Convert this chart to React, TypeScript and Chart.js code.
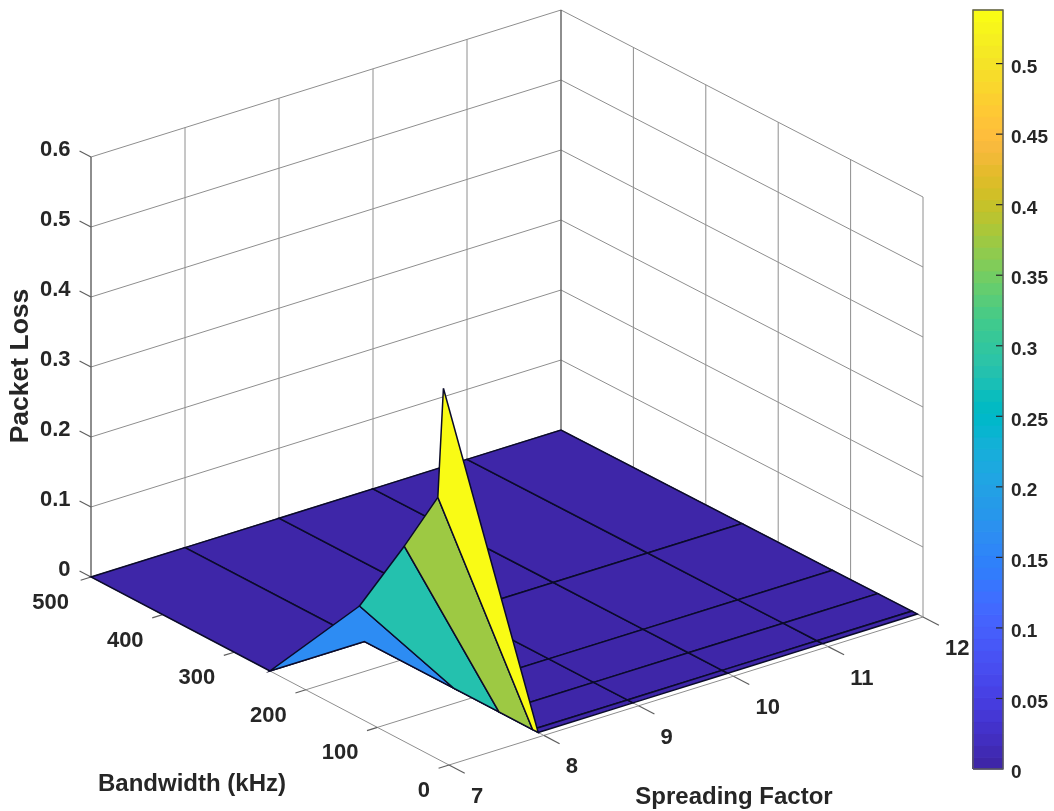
import React, { useEffect, useRef } from "react";
import { Chart, registerables } from "chart.js";

Chart.register(...registerables);

// ---- data ----
const SF_VALUES = [7, 8, 9, 10, 11, 12];
const BW_ROWS = [7.8, 15.6, 62.5, 125, 250, 500];
// packet loss at SF 7 for each BW row (every other grid node is 0)
const LOSS_AT_SF7 = [0.534, 0.374, 0.279, 0.16, 0, 0];
const SF_TICKS = [7, 8, 9, 10, 11, 12];
const BW_TICKS = [0, 100, 200, 300, 400, 500];
const LOSS_TICKS = [0, 0.1, 0.2, 0.3, 0.4, 0.5, 0.6];
const CB_TICKS = [0, 0.05, 0.1, 0.15, 0.2, 0.25, 0.3, 0.35, 0.4, 0.45, 0.5];
const CB_MAX = 0.538;
const X_TITLE = "Spreading Factor";
const Y_TITLE = "Bandwidth (kHz)";
const Z_TITLE = "Packet Loss";

const PARULA = [
  [0.2422,0.1504,0.6603],[0.2504,0.165,0.7076],[0.2578,0.1818,0.7511],[0.2647,0.1978,0.7952],
  [0.2706,0.2147,0.8364],[0.2751,0.2342,0.871],[0.2783,0.2559,0.8991],[0.2803,0.2782,0.9221],
  [0.2813,0.3006,0.9414],[0.281,0.3228,0.9579],[0.2795,0.3447,0.9717],[0.276,0.3667,0.9829],
  [0.2699,0.3892,0.9906],[0.2602,0.4123,0.9952],[0.244,0.4358,0.9988],[0.2206,0.4603,0.9973],
  [0.1963,0.4847,0.9892],[0.1834,0.5074,0.9798],[0.1786,0.5289,0.9682],[0.1764,0.5499,0.952],
  [0.1687,0.5703,0.9359],[0.154,0.5902,0.9218],[0.146,0.6091,0.9079],[0.138,0.6276,0.8973],
  [0.1248,0.6459,0.8883],[0.1113,0.6635,0.8763],[0.0952,0.6798,0.8598],[0.0689,0.6948,0.8394],
  [0.0297,0.7082,0.8163],[0.0036,0.7203,0.7917],[0.0067,0.7312,0.766],[0.0433,0.7411,0.7394],
  [0.0964,0.75,0.712],[0.1408,0.7584,0.6842],[0.1717,0.767,0.6554],[0.1938,0.7758,0.6251],
  [0.2161,0.7843,0.5923],[0.247,0.7918,0.5567],[0.2906,0.7973,0.5188],[0.3406,0.8008,0.4789],
  [0.3909,0.8029,0.4354],[0.4456,0.8024,0.3909],[0.5044,0.7993,0.348],[0.5616,0.7942,0.3045],
  [0.6174,0.7876,0.2612],[0.672,0.7793,0.2227],[0.7242,0.7698,0.191],[0.7738,0.7598,0.1646],
  [0.8203,0.7498,0.1535],[0.8634,0.7406,0.1596],[0.9035,0.733,0.1774],[0.9393,0.7288,0.21],
  [0.9728,0.7298,0.2394],[0.9956,0.7434,0.2371],[0.997,0.7659,0.2199],[0.9952,0.7893,0.2028],
  [0.9892,0.8136,0.1885],[0.9786,0.8386,0.1766],[0.9676,0.8639,0.1643],[0.961,0.889,0.1537],
  [0.9597,0.9135,0.1423],[0.9628,0.9373,0.1265],[0.9691,0.9606,0.1064],[0.9769,0.9839,0.0805],
];

// ---- view ----
const CORNER_LEFT = [91, 577];
const CORNER_BACK = [561, 430];
const CORNER_FRONT = [449, 765];
const CORNER_RIGHT = [923, 617];
const Z_PX_PER_UNIT = 700;
const Z_MAX = 0.6;
const CB_X0 = 973;
const CB_X1 = 1003;
const CB_TOP = 10;
const CB_BOTTOM = 769;
const W = 1054;
const H = 811;
const TEXT = "#262626";
const GRID = "#8e8e8e";
const AXIS = "#5e5e5e";

function project(sf: number, bw: number, z: number) {
  const u = (sf - 7) / 5;
  const v = (500 - bw) / 500;
  const mix = (i: number) =>
    (1 - u) * (1 - v) * CORNER_LEFT[i] + u * (1 - v) * CORNER_BACK[i] +
    (1 - u) * v * CORNER_FRONT[i] + u * v * CORNER_RIGHT[i];
  return { x: mix(0), y: mix(1) - z * Z_PX_PER_UNIT };
}

const rgb = (c: number[]) => `rgb(${c.map((v) => Math.round(v * 255)).join(",")})`;
const colorOf = (v: number) =>
  rgb(PARULA[Math.min(63, Math.max(0, Math.round((v / CB_MAX) * 63)))]);

function line(points: any[], color: string, width: number) {
  return {
    data: points, showLine: true, pointRadius: 0, pointHoverRadius: 0, borderColor: color,
    borderWidth: width, backgroundColor: "transparent", fill: false, tension: 0, clip: false,
    borderJoinStyle: "miter",
  };
}
function poly(points: any[], fillColor: string, edge: string, width: number) {
  return { ...line([...points, points[0]], edge, width), backgroundColor: fillColor, fill: "shape" };
}
const lossAt = (si: number, bi: number) => (si === 0 ? LOSS_AT_SF7[bi] : 0);

function buildDatasets() {
  const out: any[] = [];
  // walls
  for (const z of LOSS_TICKS) {
    out.push(line([project(7, 500, z), project(12, 500, z), project(12, 0, z)], GRID, 1));
  }
  for (const sf of SF_TICKS) {
    out.push(line([project(sf, 500, 0), project(sf, 500, Z_MAX)], sf === 7 || sf === 12 ? AXIS : GRID, sf === 7 || sf === 12 ? 1.4 : 1));
  }
  for (const bw of BW_TICKS) {
    if (bw === 500) continue;
    out.push(line([project(12, bw, 0), project(12, bw, Z_MAX)], GRID, 1));
  }
  // floor
  for (const sf of SF_TICKS) out.push(line([project(sf, 500, 0), project(sf, 0, 0)], GRID, 1));
  for (const bw of BW_TICKS) out.push(line([project(7, bw, 0), project(12, bw, 0)], GRID, 1));
  // tick marks
  for (const sf of SF_TICKS) {
    out.push(line([project(sf, 0, 0), project(sf, -22, 0)], AXIS, 1.2));
  }
  for (const bw of BW_TICKS) {
    out.push(line([project(7, bw, 0), project(6.89, bw, 0)], AXIS, 1.2));
  }
  for (const z of LOSS_TICKS) {
    out.push(line([project(7, 500, z), project(7, 516, z)], AXIS, 1.2));
  }
  // surface, back to front: flat floor cells first, then the SF 7 to 8 strip from far to near
  const cell = (si: number, bi: number) => {
    const corners = [
      project(SF_VALUES[si], BW_ROWS[bi], lossAt(si, bi)),
      project(SF_VALUES[si + 1], BW_ROWS[bi], lossAt(si + 1, bi)),
      project(SF_VALUES[si + 1], BW_ROWS[bi + 1], lossAt(si + 1, bi + 1)),
      project(SF_VALUES[si], BW_ROWS[bi + 1], lossAt(si, bi + 1)),
    ];
    return poly(corners, colorOf(lossAt(si, bi)), "#0b0b2a", 1.5);
  };
  for (let bi = BW_ROWS.length - 2; bi >= 0; bi--) {
    for (let si = 1; si < SF_VALUES.length - 1; si++) out.push(cell(si, bi));
  }
  for (let bi = BW_ROWS.length - 2; bi >= 0; bi--) out.push(cell(0, bi));
  // colour bar
  const n = PARULA.length;
  PARULA.forEach((c, i) => {
    const v0 = (i / n) * CB_MAX;
    const v1 = ((i + 1) / n) * CB_MAX;
    const d = poly(
      [{ x: CB_X0, y: v0 }, { x: CB_X1, y: v0 }, { x: CB_X1, y: v1 }, { x: CB_X0, y: v1 }],
      rgb(c), rgb(c), 1,
    );
    out.push({ ...d, yAxisID: "cb" });
  });
  for (const v of CB_TICKS.slice(1)) {
    out.push({ ...line([{ x: CB_X1 - 7, y: v }, { x: CB_X1, y: v }], TEXT, 1.2), yAxisID: "cb" });
  }
  out.push({
    ...line(
      [{ x: CB_X0, y: 0 }, { x: CB_X1, y: 0 }, { x: CB_X1, y: CB_MAX }, { x: CB_X0, y: CB_MAX }, { x: CB_X0, y: 0 }],
      "#5a5a5a", 1.4,
    ),
    yAxisID: "cb",
  });
  return out.reverse();
}

const textPlugin = {
  id: "axis3dText",
  afterDraw(chart: any) {
    const { ctx, scales } = chart;
    const px = (p: { x: number; y: number }) => ({
      x: scales.x.getPixelForValue(p.x),
      y: scales.y.getPixelForValue(p.y),
    });
    ctx.save();
    ctx.fillStyle = TEXT;
    ctx.textBaseline = "middle";
    ctx.font = "bold 22px 'Liberation Sans'";
    ctx.textAlign = "right";
    for (const z of LOSS_TICKS) {
      const p = px(project(7, 500, z));
      ctx.fillText(String(z), p.x - 20.5, p.y - 7);
    }
    for (const bw of BW_TICKS) {
      const p = px(project(7, bw, 0));
      ctx.fillText(String(bw), p.x - (bw === 500 ? 22 : 19), p.y + 26);
    }
    ctx.textAlign = "left";
    for (const sf of SF_TICKS) {
      const p = px(project(sf, 0, 0));
      ctx.fillText(String(sf), p.x + 22, p.y + 32);
    }
    ctx.font = "bold 24px 'Liberation Sans'";
    ctx.textAlign = "center";
    ctx.fillText(X_TITLE, 734, 797);
    ctx.fillText(Y_TITLE, 192, 784);
    ctx.translate(21, 366);
    ctx.rotate(-Math.PI / 2);
    ctx.font = "bold 26.5px 'Liberation Sans'";
    ctx.fillText(Z_TITLE, 0, 0);
    ctx.restore();
  },
};

export default function App() {
  const ref = useRef<HTMLCanvasElement>(null);
  useEffect(() => {
    const chart = new Chart(ref.current!, {
      type: "scatter",
      data: { datasets: buildDatasets() },
      options: {
        animation: false,
        responsive: false,
        events: [],
        layout: { padding: { left: 0, right: 0, top: CB_TOP, bottom: H - CB_BOTTOM } },
        plugins: { legend: { display: false }, tooltip: { enabled: false }, title: { display: false } },
        scales: {
          x: { type: "linear", display: false, min: 0, max: CB_X1 },
          y: { type: "linear", display: false, reverse: true, min: CB_TOP, max: CB_BOTTOM },
          cb: {
            type: "linear",
            position: "right",
            min: 0,
            max: CB_MAX,
            grid: { display: false, drawTicks: false, tickLength: 0 },
            border: { display: false },
            afterBuildTicks: (s: any) => {
              s.ticks = CB_TICKS.map((value) => ({ value }));
            },
            afterFit: (s: any) => {
              s.width = W - CB_X1;
              s.paddingTop = 0;
              s.paddingBottom = 0;
            },
            ticks: {
              autoSkip: false,
              padding: 8,
              labelOffset: 4,
              color: TEXT,
              font: { family: "'Liberation Sans'", size: 19, weight: "bold" },
              callback: (v: any) => String(v),
            },
          },
        },
      },
      plugins: [textPlugin],
    } as any);
    return () => chart.destroy();
  }, []);
  return (
    <canvas
      ref={ref}
      width={W}
      height={H}
      style={{ position: "absolute", left: 0, top: 0, display: "block" }}
    />
  );
}
